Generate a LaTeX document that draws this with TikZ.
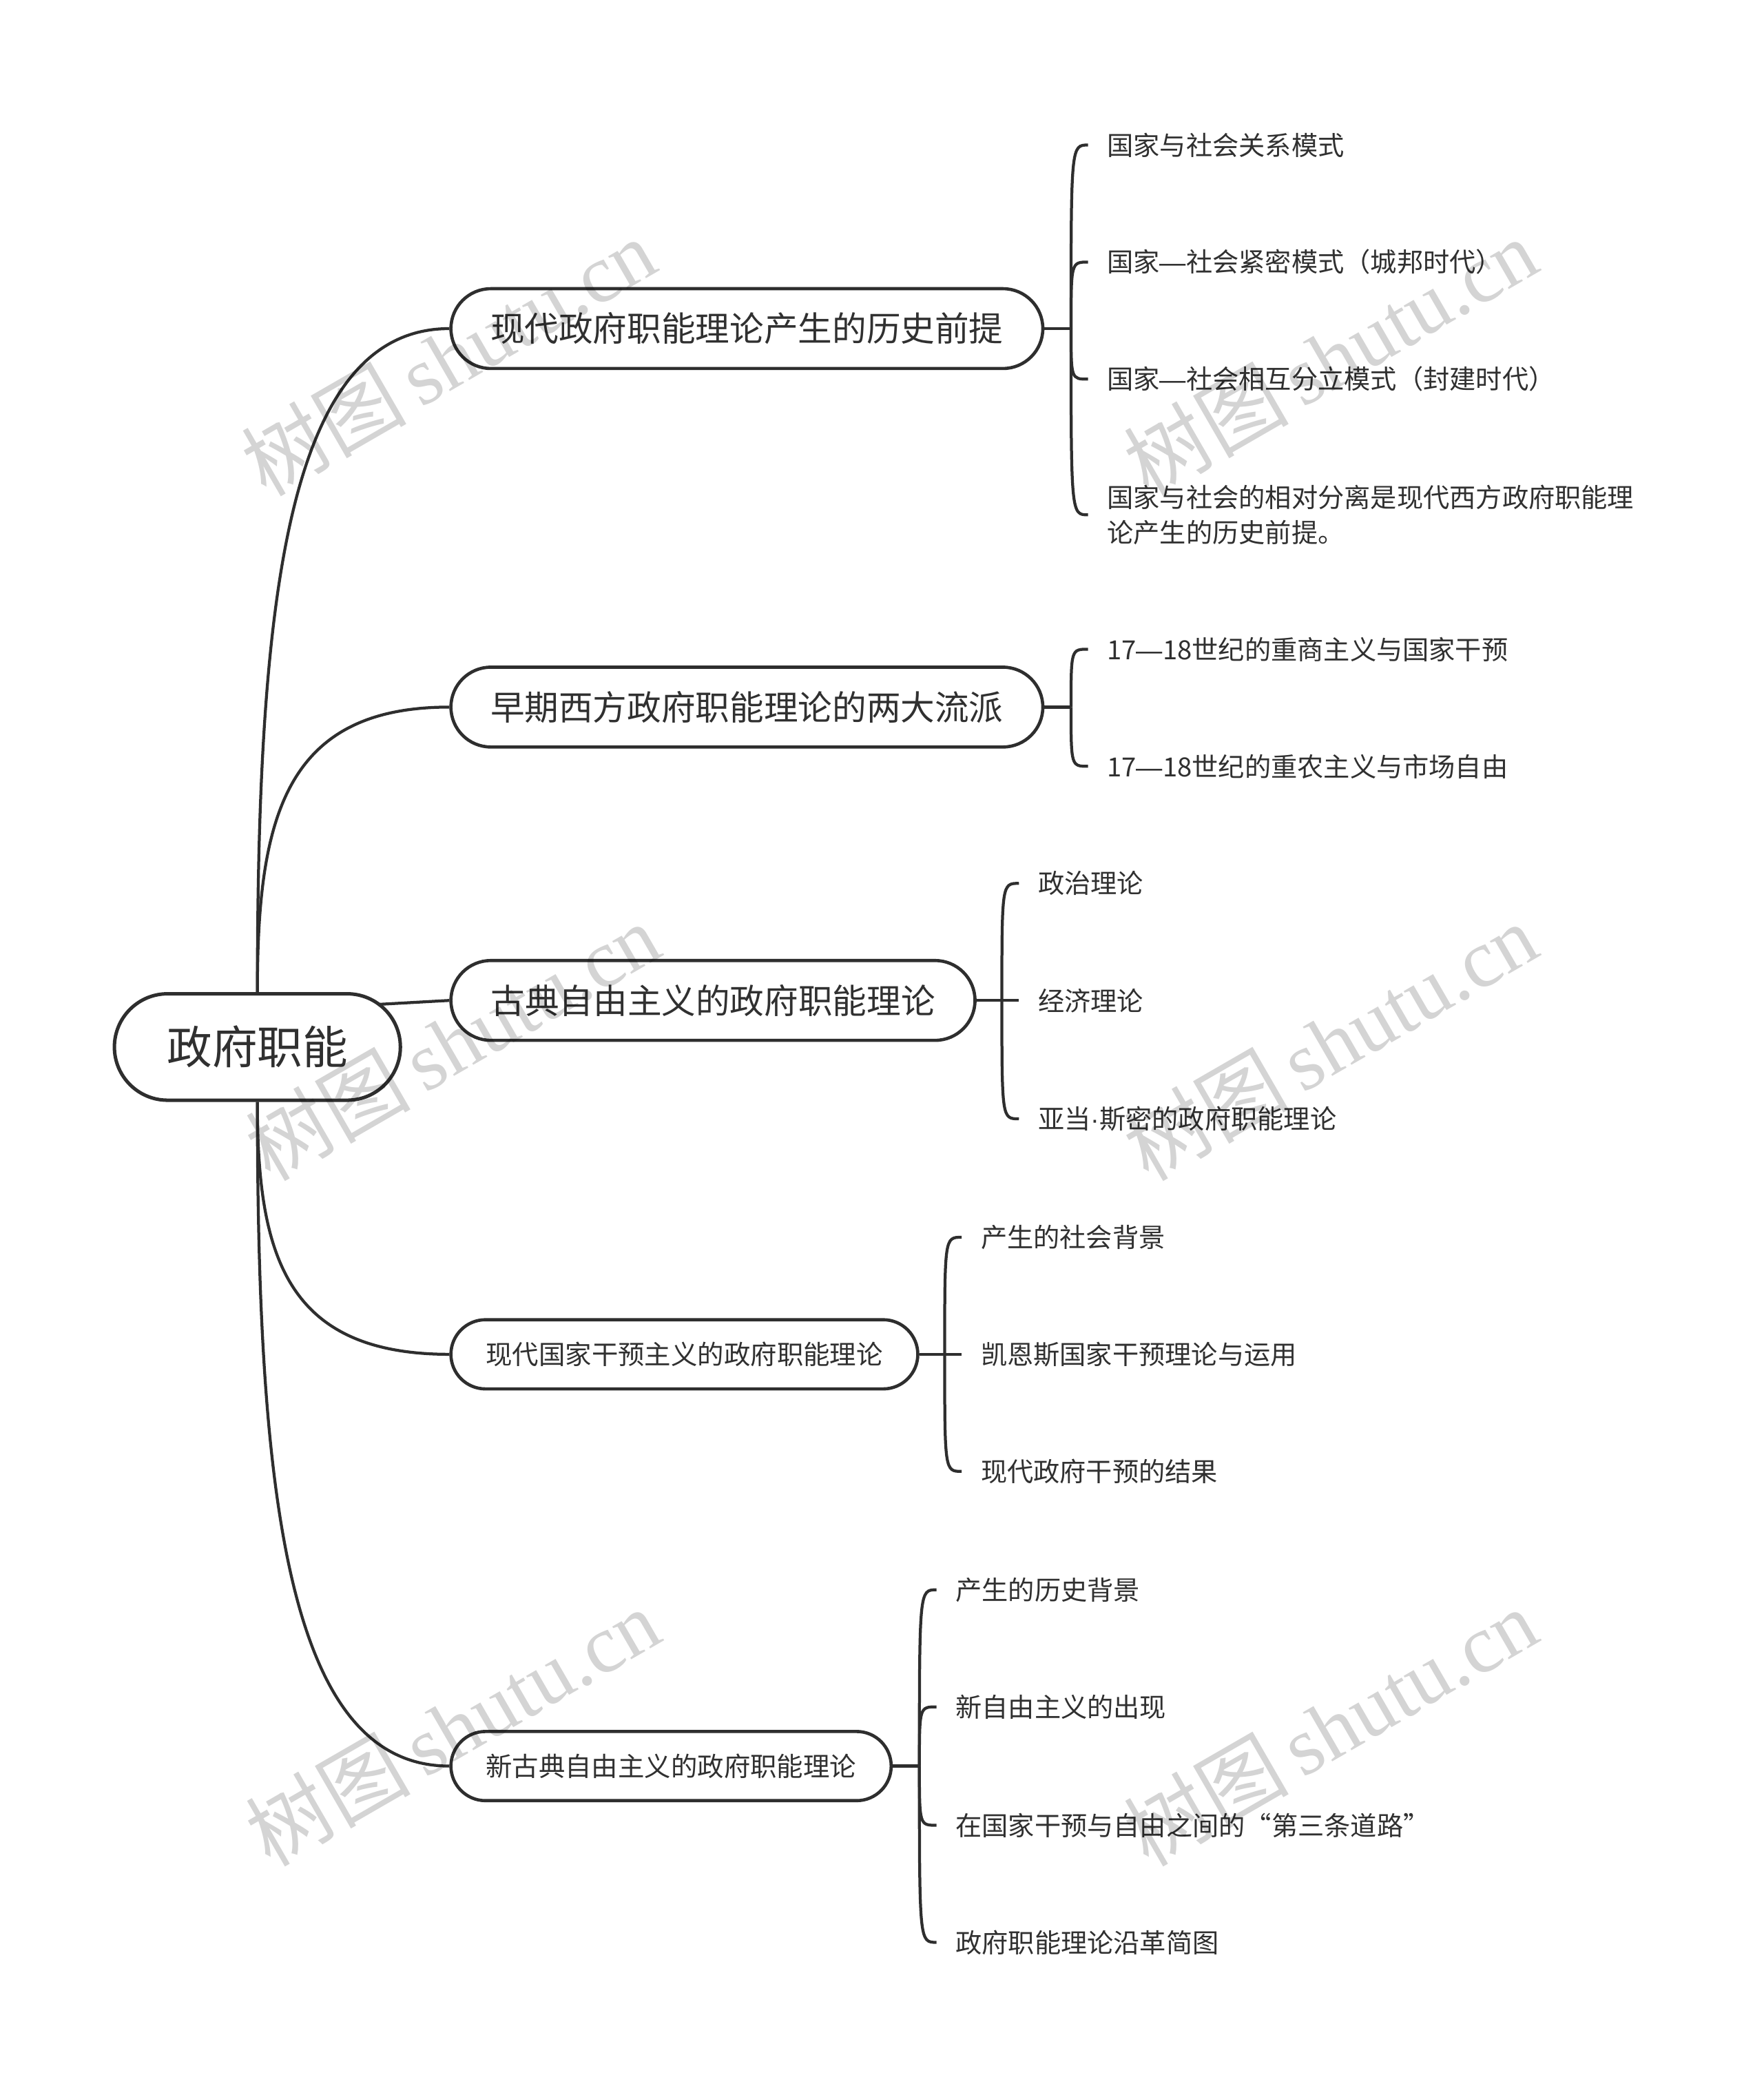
\documentclass[tikz,border=0pt]{standalone}
\usepackage{fontspec}
\setmainfont{Noto Sans CJK SC}
\newfontfamily\wmlat{Liberation Serif}
\newfontfamily\latsans{Liberation Sans}
\newcommand\emdsh{{\latsans —}}
\newcommand\middot{{\latsans ·}}
\usetikzlibrary{calc}
\definecolor{ink}{HTML}{2E2E2E}
\definecolor{txt}{HTML}{303030}
\begin{document}
\begin{tikzpicture}[x=0.5pt,y=-0.5pt,
  rootbox/.style={draw=ink, line width=1.3pt, fill=white, rounded corners=20pt,
    minimum width=107.5pt, minimum height=40pt, inner sep=0pt, text=txt,
    font=\fontsize{17}{20}\selectfont},
  topicbig/.style={draw=ink, line width=1.2pt, fill=white, rounded corners=15pt,
    minimum height=30pt, inner sep=0pt, text=txt,
    font=\fontsize{12.85}{15}\selectfont},
  topicsmall/.style={draw=ink, line width=1.2pt, fill=white, rounded corners=13pt,
    minimum height=26pt, inner sep=0pt, text=txt,
    font=\fontsize{9.95}{12}\selectfont},
  leaf/.style={anchor=west, inner xsep=7pt, inner ysep=2pt, text=txt, align=left,
    font=\fontsize{9.9}{13}\selectfont},
  conn/.style={draw=ink, line width=1.1pt},
  wm/.style={rotate=30, text=black, opacity=0.17, inner sep=0pt,
    font=\fontsize{31}{31}\selectfont}
]
\fill[white] (0,0) rectangle (1326,1568);
\useasboundingbox (0,0) rectangle (1326,1568);

% main nodes
\node[rootbox] (root) at (193.5,787) {政府职能};
\node[topicbig, minimum width=222.5pt] (a) at (561.5,247) {现代政府职能理论产生的历史前提};
\node[topicbig, minimum width=222.5pt] (b) at (561.5,531.5) {早期西方政府职能理论的两大流派};
\node[topicbig, minimum width=197pt] (c) at (536,752) {古典自由主义的政府职能理论};
\node[topicsmall, minimum width=175.5pt] (d) at (514.5,1018) {现代国家干预主义的政府职能理论};
\node[topicsmall, minimum width=165.5pt] (e) at (504.5,1327.5) {新古典自由主义的政府职能理论};

% leaves
\node[leaf] (a1) at (818,109) {国家与社会关系模式};
\node[leaf] (a2) at (818,197) {国家\emdsh 社会紧密模式（城邦时代）};
\node[leaf] (a3) at (818,285) {国家\emdsh 社会相互分立模式（封建时代）};
\node[leaf] (a4) at (818,387) {国家与社会的相对分离是现代西方政府职能理\\论产生的历史前提。};
\node[leaf] (b1) at (818,488) {17\emdsh 18世纪的重商主义与国家干预};
\node[leaf] (b2) at (818,576) {17\emdsh 18世纪的重农主义与市场自由};
\node[leaf] (c1) at (766,664) {政治理论};
\node[leaf] (c2) at (766,752) {经济理论};
\node[leaf] (c3) at (766,841) {亚当\middot 斯密的政府职能理论};
\node[leaf] (d1) at (723,930) {产生的社会背景};
\node[leaf] (d2) at (723,1018) {凯恩斯国家干预理论与运用};
\node[leaf] (d3) at (723,1106) {现代政府干预的结果};
\node[leaf] (e1) at (704,1195) {产生的历史背景};
\node[leaf] (e2) at (704,1283) {新自由主义的出现};
\node[leaf] (e3) at (704,1372) {在国家干预与自由之间的“第三条道路”};
\node[leaf] (e4) at (704,1460) {政府职能理论沿革简图};

% root to topics
\coordinate (rc) at (284,755);
\draw[conn] (root.north) .. controls (193.5,450) and (216,247) .. (a.west);
\draw[conn] (root.north) .. controls (193.5,615) and (214,531.5) .. (b.west);
\draw[conn] (rc) -- (c.west);
\draw[conn] (root.south) .. controls (193.5,942) and (214,1018) .. (d.west);
\draw[conn] (root.south) .. controls (193.5,1124) and (216,1327.5) .. (e.west);

% junctions
\coordinate (ja) at ($(a.east)+(20,0)$);
\coordinate (jb) at ($(b.east)+(20,0)$);
\coordinate (jc) at ($(c.east)+(19,0)$);
\coordinate (jd) at ($(d.east)+(19,0)$);
\coordinate (je) at ($(e.east)+(20,0)$);
\draw[conn] (a.east) -- (ja);
\draw[conn] (b.east) -- (jb);
\draw[conn] (c.east) -- (jc);
\draw[conn] (d.east) -- (jd);
\draw[conn] (e.east) -- (je);

\foreach \j/\l in {ja/a1,ja/a2,ja/a3,ja/a4,jb/b1,jb/b2,jc/c1,jc/c2,jc/c3,
                   jd/d1,jd/d2,jd/d3,je/e1,je/e2,je/e3,je/e4}
  \draw[conn] (\j) .. controls (\j |- \l.west) .. (\l.west);

% watermarks
\foreach \p in {(337,268),(1000,268),(340,783),(1000,783),(340,1298),(1000,1298)}
  \node[wm] at \p {树图\,{\wmlat shutu.cn}};
\end{tikzpicture}
\end{document}
